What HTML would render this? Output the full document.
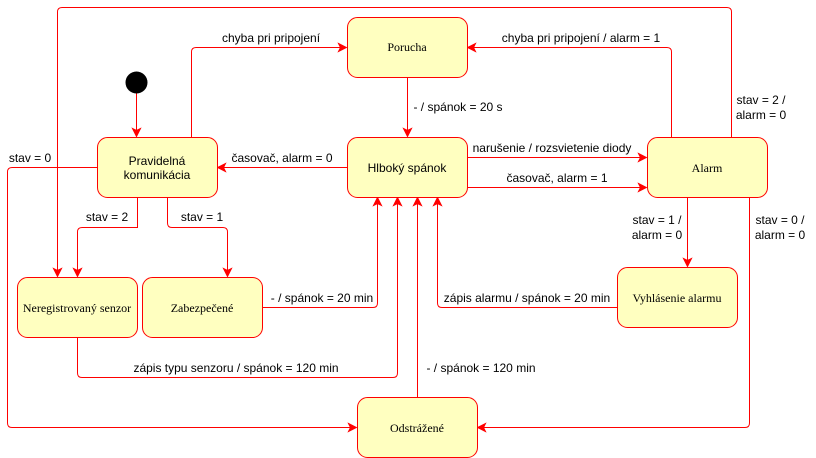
<!DOCTYPE html>
<html><head><meta charset="utf-8"><style>
html,body{margin:0;padding:0;background:#fff;}
svg{display:block;}
.b{fill:#ffffc0;stroke:#ff0000;stroke-width:1;}
.e{fill:none;stroke:#ff0000;stroke-width:1;}
.s{font-family:"Liberation Sans",sans-serif;font-size:12px;fill:#000;}
.r{font-family:"Liberation Serif",serif;font-size:12px;fill:#000;}
.l{font-family:"Liberation Sans",sans-serif;font-size:12px;fill:#000;}
</style></head><body>
<svg width="816" height="458" viewBox="0 0 816 458" xmlns="http://www.w3.org/2000/svg">
<defs><marker id="a" markerWidth="10" markerHeight="10" refX="9" refY="5" orient="auto" markerUnits="userSpaceOnUse"><path d="M1,1 L9,5 L1,9 L3,5 Z" fill="#ff0000" stroke="#ff0000"/></marker></defs>
<circle cx="136.5" cy="82.5" r="11" fill="#000"/>
<g class="e" marker-end="url(#a)">
<path d="M136.5,93.5 V136.5"/>
<path d="M191.5,137 V52 Q191.5,47.5 196,47.5 H346.5"/>
<path d="M671.5,137 V52 Q671.5,47.5 667,47.5 H467.5"/>
<path d="M407.5,77 V136.5"/>
<path d="M347,167.5 H217.5"/>
<path d="M467,157.5 H646.5"/>
<path d="M467,187.5 H646.5"/>
<path d="M731.5,137 V12 Q731.5,7.5 727,7.5 H62 Q57.5,7.5 57.5,12 V276.5"/>
<path d="M97,167.5 H12 Q7.5,167.5 7.5,172 V423 Q7.5,427.5 12,427.5 H356.5"/>
<path d="M137.5,197 V227.5 H82 Q77.5,227.5 77.5,232 V276.5"/>
<path d="M167.5,197 V223 Q167.5,227.5 172,227.5 H223 Q227.5,227.5 227.5,232 V276.5"/>
<path d="M262,307.5 H373 Q377.5,307.5 377.5,303 V197.5"/>
<path d="M77.5,337 V373 Q77.5,377.5 82,377.5 H393 Q397.5,377.5 397.5,373 V197.5"/>
<path d="M417.5,397 V197.5"/>
<path d="M617,307.5 H442 Q437.5,307.5 437.5,303 V197.5"/>
<path d="M687.5,197 V266.5"/>
<path d="M749.5,197 V423 Q749.5,427.5 745,427.5 H477.5"/>
</g>
<rect class="b" x="347.5" y="17.5" width="120" height="60" rx="10"/>
<rect class="b" x="97.5" y="137.5" width="120" height="60" rx="10"/>
<rect class="b" x="347.5" y="137.5" width="120" height="60" rx="10"/>
<rect class="b" x="647.5" y="137.5" width="120" height="60" rx="10"/>
<rect class="b" x="17.5" y="277.5" width="120" height="60" rx="10"/>
<rect class="b" x="142.5" y="277.5" width="120" height="60" rx="10"/>
<rect class="b" x="617.5" y="267.5" width="120" height="60" rx="10"/>
<rect class="b" x="357.5" y="397.5" width="120" height="60" rx="10"/>
<g text-anchor="middle">
<text class="r" x="407" y="51">Porucha</text>
<text class="s" x="157" y="165">Pravidelná</text>
<text class="s" x="157" y="179">komunikácia</text>
<text class="s" x="407" y="172">Hlboký spánok</text>
<text class="r" x="707" y="172">Alarm</text>
<text class="r" x="77" y="312">Neregistrovaný senzor</text>
<text class="r" x="202" y="312">Zabezpečené</text>
<text class="r" x="677" y="302">Vyhlásenie alarmu</text>
<text class="r" x="417" y="432">Odstrážené</text>
</g>
<g class="l" text-anchor="middle">
<rect x="220" y="30" width="103" height="14" fill="#fff"/>
<text x="271" y="42">chyba pri pripojení</text>
<rect x="500" y="30" width="163" height="14" fill="#fff"/>
<text x="581" y="42">chyba pri pripojení / alarm = 1</text>
<text x="458" y="111">- / spánok = 20 s</text>
<text x="282" y="162">časovač, alarm = 0</text>
<text x="552" y="152">narušenie / rozsvietenie diody</text>
<text x="557" y="182">časovač, alarm = 1</text>
<rect x="735" y="92" width="54" height="30" fill="#fff"/>
<text x="761" y="104">stav = 2 /</text>
<text x="761" y="119">alarm = 0</text>
<rect x="6" y="150" width="48" height="14" fill="#fff"/>
<text x="30" y="162">stav = 0</text>
<text x="107" y="221">stav = 2</text>
<text x="202" y="221">stav = 1</text>
<text x="322" y="302">- / spánok = 20 min</text>
<text x="236" y="372">zápis typu senzoru / spánok = 120 min</text>
<text x="481" y="372">- / spánok = 120 min</text>
<text x="527" y="302">zápis alarmu / spánok = 20 min</text>
<text x="657" y="224">stav = 1 /</text>
<text x="657" y="239">alarm = 0</text>
<text x="780" y="224">stav = 0 /</text>
<text x="780" y="239">alarm = 0</text>
</g>
</svg>
</body></html>
